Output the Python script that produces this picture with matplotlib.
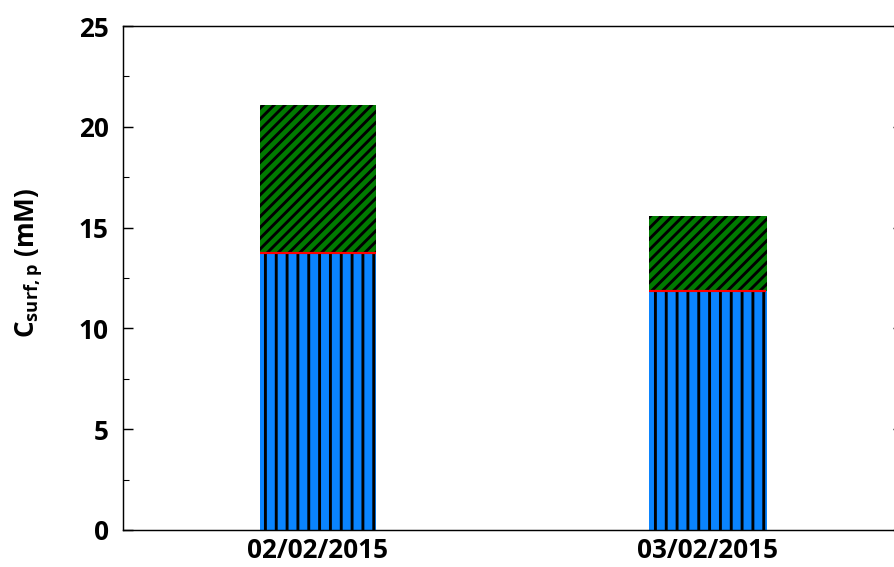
import matplotlib
matplotlib.use("Agg")
import matplotlib.pyplot as plt
from matplotlib.ticker import MultipleLocator

dates = ["02/02/2015", "03/02/2015"]
lower = [13.75, 11.85]     # blue, vertical hatch
upper = [7.35, 3.75]       # green, diagonal hatch (stacked on top)

DPI = 130
plt.rcParams["font.family"] = ["Open Sans", "DejaVu Sans"]
plt.rcParams["mathtext.fontset"] = "custom"
plt.rcParams["mathtext.rm"] = "Open Sans"
plt.rcParams["mathtext.bf"] = "Open Sans:bold"
plt.rcParams["hatch.linewidth"] = 1.6

fig = plt.figure(figsize=(894 / DPI, 567 / DPI), dpi=DPI)
ax = fig.add_axes([123 / 894, 37 / 567, 780 / 894, 504 / 567])

pos = [1, 2]
width = 0.3
ax.bar(pos, lower, width, color="#0A84FF", edgecolor="black", linewidth=0, hatch="||")
ax.bar(pos, upper, width, bottom=lower, color="#007A00", edgecolor="black",
       linewidth=0, hatch="////")
ax.hlines(lower, [p - width / 2 for p in pos], [p + width / 2 for p in pos],
          colors="red", linewidth=1.2, zorder=3)

ax.set_xlim(0.5, 2.5)
ax.set_ylim(0, 25)
ax.set_xticks(pos)
ax.set_xticklabels(dates, fontsize=14.5, fontweight="bold")
ax.tick_params(axis="x", length=0, pad=4)
ax.yaxis.set_major_locator(MultipleLocator(5))
ax.yaxis.set_minor_locator(MultipleLocator(2.5))
ax.tick_params(axis="y", which="major", direction="in", length=5.5, width=0.8,
               left=True, right=True, labelsize=14.5, pad=8)
ax.tick_params(axis="y", which="minor", direction="in", length=3.2, width=0.6,
               left=True, right=True)
for lab in ax.get_yticklabels():
    lab.set_fontweight("bold")
for sp in ax.spines.values():
    sp.set_linewidth(0.8)

ax.set_ylabel(r"$\mathbf{C_{surf,p}}$ (mM)", fontsize=14.5, fontweight="bold")
ax.yaxis.set_label_coords(-0.10, 0.53)

fig.savefig("out.png", dpi=DPI)
